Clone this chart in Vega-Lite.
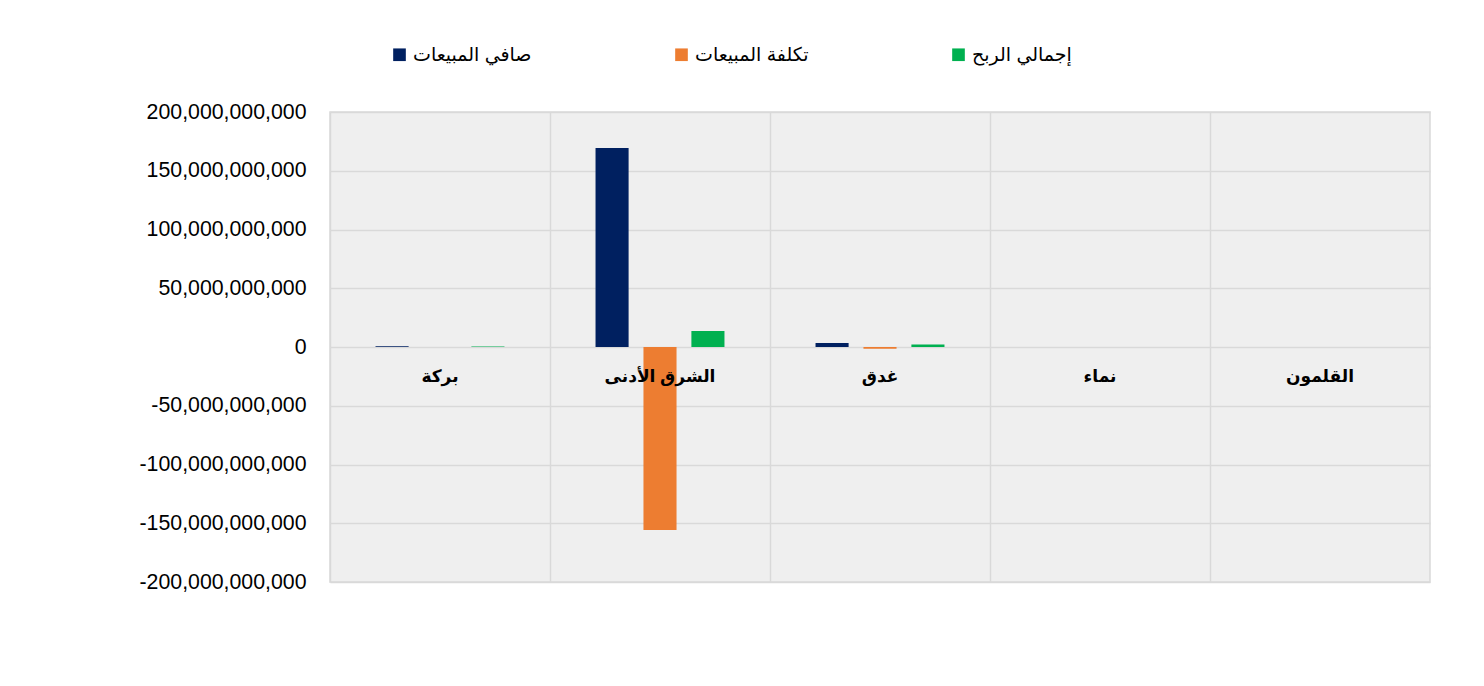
{
  "$schema": "https://vega.github.io/schema/vega-lite/v6.json",
  "width": 1100,
  "height": 470,
  "autosize": {"type": "none"},
  "padding": {"left": 330, "top": 112, "right": 54, "bottom": 104},
  "background": "white",
  "config": {
    "view": {"fill": "#efefef", "stroke": "#d9d9d9", "strokeWidth": 1.5},
    "font": "Liberation Sans, Arial, DejaVu Sans"
  },
  "data": {
    "values": [
      {"region": "بركة", "series": "صافي المبيعات", "value": 600000000},
      {"region": "بركة", "series": "تكلفة المبيعات", "value": -100000000},
      {"region": "بركة", "series": "إجمالي الربح", "value": 500000000},
      {"region": "الشرق الأدنى", "series": "صافي المبيعات", "value": 169400000000},
      {"region": "الشرق الأدنى", "series": "تكلفة المبيعات", "value": -155700000000},
      {"region": "الشرق الأدنى", "series": "إجمالي الربح", "value": 13700000000},
      {"region": "غدق", "series": "صافي المبيعات", "value": 3500000000},
      {"region": "غدق", "series": "تكلفة المبيعات", "value": -1400000000},
      {"region": "غدق", "series": "إجمالي الربح", "value": 2100000000},
      {"region": "نماء", "series": "صافي المبيعات", "value": 0},
      {"region": "نماء", "series": "تكلفة المبيعات", "value": 0},
      {"region": "نماء", "series": "إجمالي الربح", "value": 0},
      {"region": "القلمون", "series": "صافي المبيعات", "value": 0},
      {"region": "القلمون", "series": "تكلفة المبيعات", "value": 0},
      {"region": "القلمون", "series": "إجمالي الربح", "value": 0}
    ]
  },
  "encoding": {
    "x": {
      "field": "region",
      "type": "nominal",
      "sort": ["بركة", "الشرق الأدنى", "غدق", "نماء", "القلمون"],
      "scale": {"paddingInner": 0, "paddingOuter": 0},
      "axis": {"title": null, "labels": false, "ticks": false, "domain": false, "grid": true, "bandPosition": 0, "gridColor": "#d9d9d9", "gridWidth": 1.5}
    }
  },
  "layer": [
    {
      "mark": {"type": "bar"},
      "encoding": {
        "xOffset": {
          "field": "series",
          "type": "nominal",
          "sort": ["صافي المبيعات", "تكلفة المبيعات", "إجمالي الربح"],
          "scale": {"paddingInner": 0.31, "paddingOuter": 0.95}
        },
        "y": {
          "field": "value",
          "type": "quantitative",
          "scale": {"domain": [-200000000000, 200000000000], "nice": false},
          "axis": {
            "title": null,
            "values": [-200000000000, -150000000000, -100000000000, -50000000000, 0, 50000000000, 100000000000, 150000000000, 200000000000],
            "labelExpr": "replace(format(datum.value, ',.0f'), '−', '-')",
            "domain": false,
            "ticks": false,
            "labelPadding": 24,
            "labelFontSize": 21.3,
            "labelColor": "#000000",
            "gridColor": "#d9d9d9",
            "gridWidth": 1.5
          }
        },
        "color": {
          "field": "series",
          "type": "nominal",
          "scale": {"domain": ["صافي المبيعات", "تكلفة المبيعات", "إجمالي الربح"], "range": ["#002060", "#ED7D31", "#00B050"]},
          "legend": {
            "title": null,
            "orient": "none",
            "legendX": 60,
            "legendY": -67,
            "direction": "horizontal",
            "symbolType": "square",
            "symbolSize": 160,
            "symbolStrokeWidth": 0,
            "labelFontSize": 19,
            "labelColor": "#000000",
            "labelOffset": 4,
            "columnPadding": 140,
            "labelLimit": 300
          }
        }
      }
    },
    {
      "transform": [{"filter": "datum.series === 'صافي المبيعات'"}],
      "mark": {"type": "text", "fontWeight": "bold", "fontSize": 17, "dy": 30, "color": "#000000"},
      "encoding": {
        "y": {"datum": 0},
        "text": {"field": "region"}
      }
    }
  ]
}
